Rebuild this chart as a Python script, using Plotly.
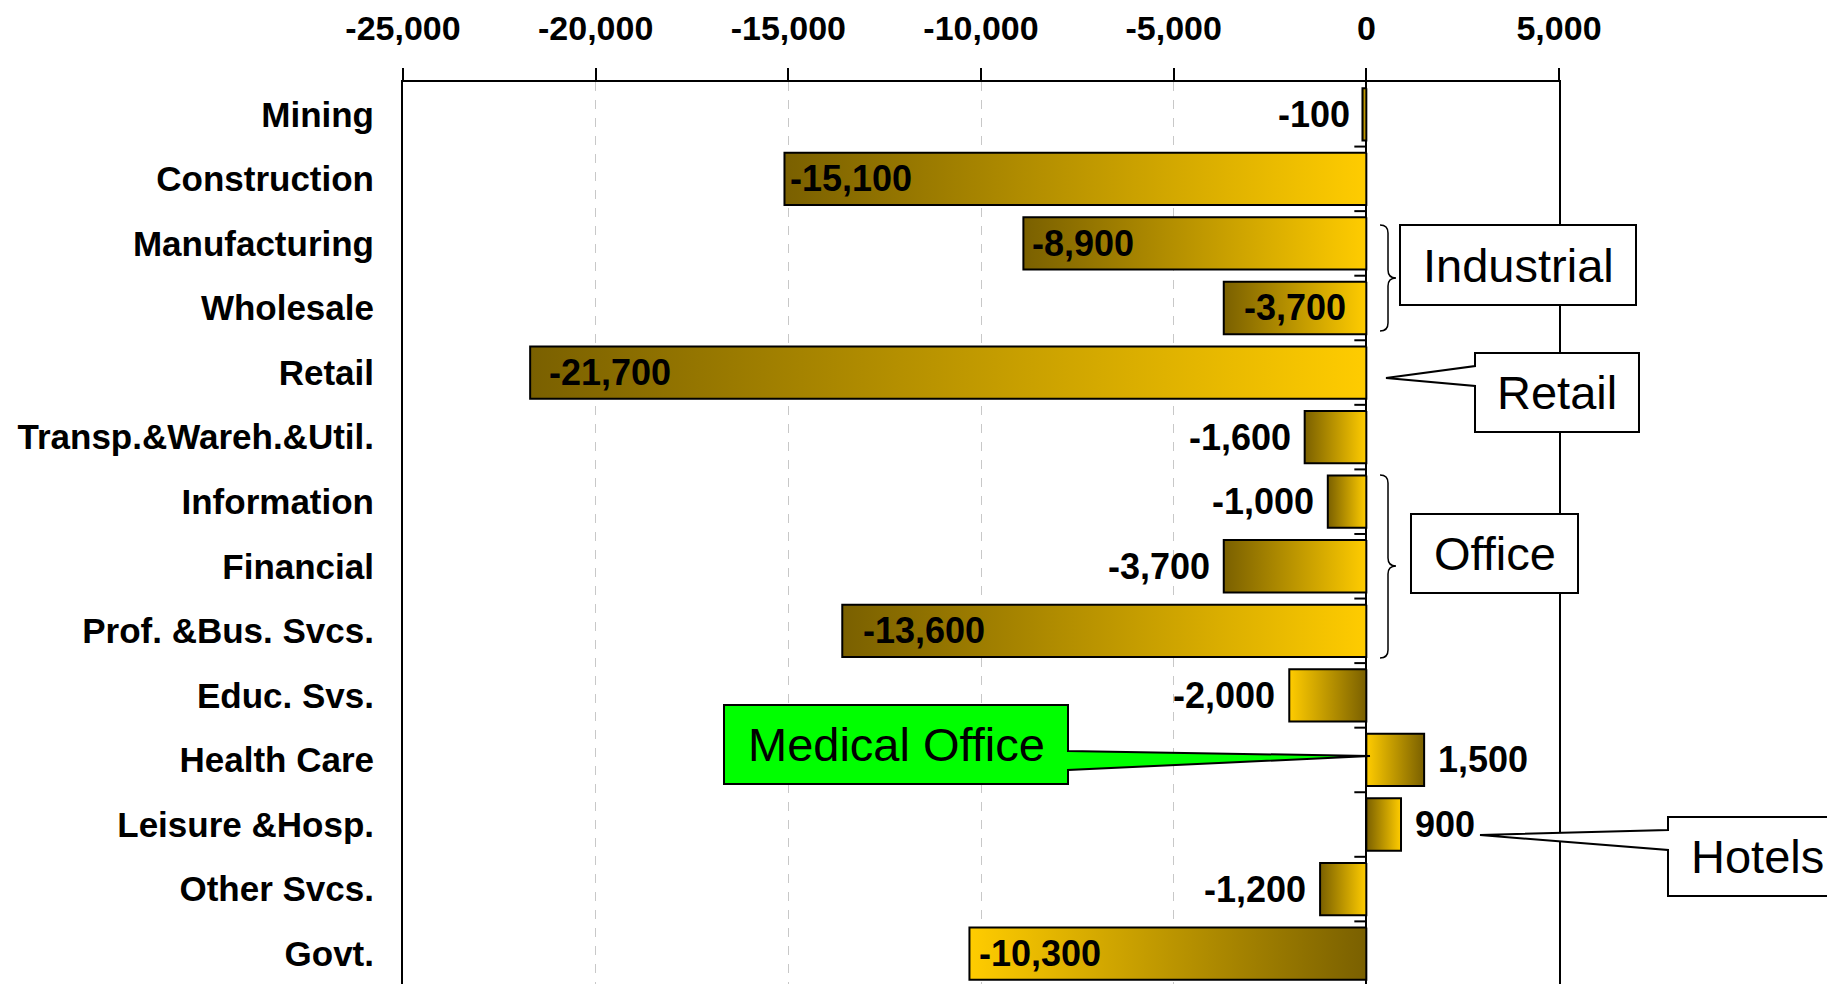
import plotly.graph_objects as go

# data (change in jobs by sector)
categories = ["Mining", "Construction", "Manufacturing", "Wholesale", "Retail",
              "Transp.&Wareh.&Util.", "Information", "Financial", "Prof. &Bus. Svcs.",
              "Educ. Svs.", "Health Care", "Leisure &Hosp.", "Other Svcs.", "Govt."]
changes = [-100, -15100, -8900, -3700, -21700, -1600, -1000, -3700, -13600,
           -2000, 1500, 900, -1200, -10300]
tick_vals = [-25000, -20000, -15000, -10000, -5000, 0, 5000]
tick_text = ["-25,000", "-20,000", "-15,000", "-10,000", "-5,000", "0", "5,000"]

# styling
DARK = "#7a6000"
GOLD = "#ffcc00"
FONT = "Liberation Sans, Arial, sans-serif"
BAR_W = 0.81
# True -> dark shade at the left end of the bar
dark_left = [True, True, True, True, True, True, True, True, True,
             False, False, True, True, False]
# where the value label sits: in = inside at the far end, mid = centred, out = beyond the end
label_pos = ["out", "in", "in", "mid", "in", "out", "out", "out", "in",
             "out", "out", "out", "out", "in"]
label_pad = [10, 4, 7, 0, 17, 12, 12, 12, 19, 12, 12, 12, 12, 8]

# page body has an 8px margin; plot area in page pixels
PAGE_OFF = 8
X0, Y0, PW, PH = 403, 82, 1156, 902
FIG_W, FIG_H = 1835 - PAGE_OFF, 984 - PAGE_OFF


def px(x):
    return (x - X0) / PW


def py(y):
    return 1 - (y - Y0) / PH


def path(points):
    return "M " + " L ".join(f"{px(x):.5f},{py(y):.5f}" for x, y in points) + " Z"


def brace(x0, x1, ytop, ybot, ymid, r=8):
    xm = (x0 + x1) / 2
    p = lambda x, y: f"{px(x):.5f},{py(y):.5f}"
    return (f"M {p(x0, ytop)} Q {p(xm, ytop)} {p(xm, ytop + r)} L {p(xm, ymid - r)} "
            f"Q {p(xm, ymid)} {p(x1, ymid)} Q {p(xm, ymid)} {p(xm, ymid + r)} "
            f"L {p(xm, ybot - r)} Q {p(xm, ybot)} {p(x0, ybot)}")


fig = go.Figure()

annotations = []
for i, (cat, v) in enumerate(zip(categories, changes)):
    y0, y1 = i - BAR_W / 2, i + BAR_W / 2
    scale = [[0, DARK], [1, GOLD]] if dark_left[i] else [[0, GOLD], [1, DARK]]
    fig.add_trace(go.Scatter(
        x=[0, v, v, 0, 0], y=[y0, y0, y1, y1, y0],
        mode="lines", fill="toself",
        fillgradient=dict(type="horizontal", colorscale=scale),
        line=dict(color="black", width=2),
        hoverinfo="skip", showlegend=False,
    ))

    txt = f"{v:,}"
    pos = label_pos[i]
    if pos == "mid":
        ax, anchor, shift = v / 2, "center", 0
    elif pos == "in":
        ax = v
        anchor = "left" if v < 0 else "right"
        shift = label_pad[i] if v < 0 else -label_pad[i]
    else:
        ax = v
        anchor = "right" if v < 0 else "left"
        shift = -label_pad[i] if v < 0 else label_pad[i]
    annotations.append(dict(
        x=ax, y=i, xref="x", yref="y", text=txt, showarrow=False,
        xanchor=anchor, yanchor="middle", xshift=shift,
        font=dict(family=FONT, size=36, color="black", weight="bold"),
    ))

shapes = []
# small ticks on the zero line between categories
for k in range(len(categories)):
    shapes.append(dict(
        type="line", xref="x", yref="y", xsizemode="pixel", xanchor=0,
        x0=-12, x1=0, y0=k + 0.5, y1=k + 0.5,
        line=dict(color="black", width=2),
    ))

# callout boxes
box_line = dict(color="black", width=2)
shapes += [
    dict(type="path", xref="paper", yref="paper", layer="above",
         path=path([(1400, 225), (1636, 225), (1636, 305), (1400, 305)]),
         fillcolor="white", line=box_line),
    dict(type="path", xref="paper", yref="paper", layer="above",
         path=path([(1475, 353), (1639, 353), (1639, 432), (1475, 432),
                    (1475, 386), (1386, 378), (1475, 366)]),
         fillcolor="white", line=box_line),
    dict(type="path", xref="paper", yref="paper", layer="above",
         path=path([(1411, 514), (1578, 514), (1578, 593), (1411, 593)]),
         fillcolor="white", line=box_line),
    dict(type="path", xref="paper", yref="paper", layer="above",
         path=path([(724, 705), (1068, 705), (1068, 751), (1370, 756),
                    (1068, 770), (1068, 784), (724, 784)]),
         fillcolor="#00ff00", line=box_line),
    dict(type="path", xref="paper", yref="paper", layer="above",
         path=path([(1668, 817), (1900, 817), (1900, 896), (1668, 896),
                    (1668, 850), (1480, 835), (1668, 830)]),
         fillcolor="white", line=box_line),
    dict(type="path", xref="paper", yref="paper", layer="above",
         path=brace(1380, 1396, 225, 331, 278), line=dict(color="black", width=1.5)),
    dict(type="path", xref="paper", yref="paper", layer="above",
         path=brace(1380, 1396, 475, 658, 566), line=dict(color="black", width=1.5)),
]

box_font = dict(family=FONT, size=47, color="black")
for text, cx, cy, anchor in [("Industrial", 1518, 265, "center"),
                             ("Retail", 1557, 392, "center"),
                             ("Office", 1494.5, 553, "center"),
                             ("Medical Office", 896, 744, "center"),
                             ("Hotels", 1689, 856, "left")]:
    annotations.append(dict(
        x=px(cx), y=py(cy), xref="paper", yref="paper", text=text,
        showarrow=False, xanchor=anchor, yanchor="middle", font=box_font,
    ))

fig.update_layout(
    width=FIG_W, height=FIG_H,
    margin=dict(l=X0 - PAGE_OFF, r=FIG_W - (X0 - PAGE_OFF) - PW,
                t=Y0 - PAGE_OFF, b=FIG_H - (Y0 - PAGE_OFF) - PH, autoexpand=False),
    paper_bgcolor="white", plot_bgcolor="white",
    hovermode=False,
    annotations=annotations, shapes=shapes,
    xaxis=dict(
        side="top", range=[-25000, 5000],
        tickvals=tick_vals, ticktext=tick_text,
        ticks="outside", ticklen=12, tickwidth=2, tickcolor="black",
        ticklabelstandoff=14,
        tickfont=dict(family=FONT, size=34, color="black", weight="bold"),
        showline=True, linecolor="black", linewidth=2,
        showgrid=True, gridcolor="#c8c8c8", griddash="dash", gridwidth=1,
        zeroline=True, zerolinecolor="black", zerolinewidth=2,
        automargin=False, fixedrange=True,
    ),
    yaxis=dict(
        range=[13.47, -0.5],
        tickvals=list(range(len(categories))), ticktext=categories,
        ticks="", ticklabelstandoff=20,
        tickfont=dict(family=FONT, size=35, color="black", weight="bold"),
        showline=True, linecolor="black", linewidth=2, mirror=True,
        showgrid=False, zeroline=False,
        automargin=False, fixedrange=True,
    ),
)

fig.write_html("out.html")
